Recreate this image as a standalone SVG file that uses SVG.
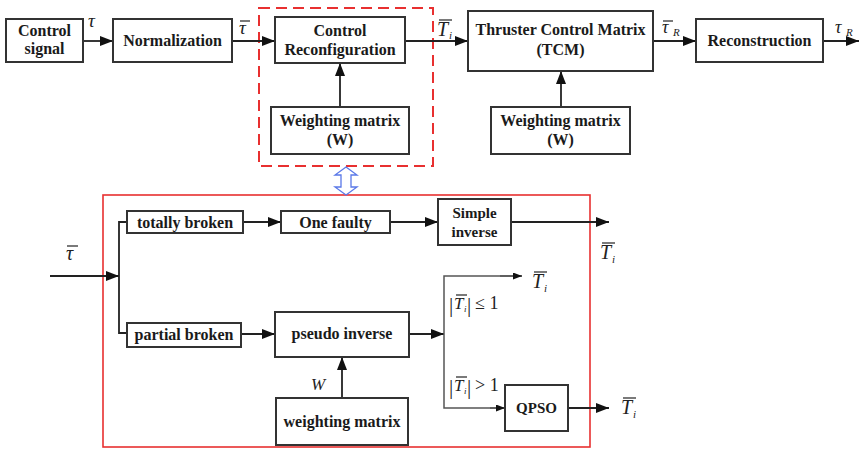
<svg xmlns="http://www.w3.org/2000/svg" width="859" height="450" viewBox="0 0 859 450">
<style>
.box{fill:#fff;stroke:#333;stroke-width:2}
.t{font-family:"Liberation Serif","Times New Roman",serif;font-weight:bold;font-size:16px;fill:#1a1a1a;text-anchor:middle}
.m{font-family:"Liberation Serif","Times New Roman",serif;font-style:italic;fill:#222}
.r{font-family:"Liberation Serif","Times New Roman",serif;fill:#222}
.ln{fill:none;stroke:#222;stroke-width:1.8}
.gl{fill:none;stroke:#555;stroke-width:1.5}
.bar{stroke:#222;stroke-width:1.2}
</style>
<defs>
<marker id="a" markerUnits="userSpaceOnUse" markerWidth="14" markerHeight="10" refX="13" refY="5" orient="auto"><path d="M0,0 L13,5 L0,10 z" fill="#111"/></marker>
<marker id="s" markerUnits="userSpaceOnUse" markerWidth="10" markerHeight="8" refX="9" refY="3.5" orient="auto"><path d="M0,0 L9,3.5 L0,7 z" fill="#111"/></marker>
</defs>

<rect x="259" y="8" width="174" height="158" fill="none" stroke="#e83030" stroke-width="2" stroke-dasharray="11,6"/>
<rect x="103" y="195" width="487" height="252" fill="none" stroke="#e83030" stroke-width="1.6"/>
<path d="M346,167 L357,175 L351,175 L351,187 L357,187 L346,195 L335,187 L341,187 L341,175 L335,175 Z" fill="#fff" stroke="#5a78e8" stroke-width="1.3"/>

<g id="connectors">
<line class="ln" x1="83" y1="41" x2="113" y2="41" marker-end="url(#a)"/>
<line class="ln" x1="232" y1="41" x2="275" y2="41" marker-end="url(#a)"/>
<line class="ln" x1="340" y1="107" x2="340" y2="63" marker-end="url(#a)"/>
<line class="ln" x1="405" y1="41" x2="468" y2="41" marker-end="url(#a)"/>
<line class="ln" x1="561" y1="107" x2="561" y2="71" marker-end="url(#a)"/>
<line class="ln" x1="653" y1="41" x2="696" y2="41" marker-end="url(#a)"/>
<line class="ln" x1="823" y1="41" x2="859" y2="41" marker-end="url(#a)"/>

<line class="ln" x1="50" y1="276" x2="119" y2="276" marker-end="url(#a)"/>
<polyline class="ln" points="127,222 119,222 119,333 127,333"/>
<line class="ln" x1="243" y1="222" x2="281" y2="222" marker-end="url(#a)"/>
<line class="ln" x1="390" y1="222" x2="438" y2="222" marker-end="url(#a)"/>
<line class="ln" x1="511" y1="222" x2="609" y2="222" marker-end="url(#a)"/>
<line class="ln" x1="241" y1="334" x2="275" y2="334" marker-end="url(#a)"/>
<line class="ln" x1="409" y1="334" x2="444" y2="334" marker-end="url(#a)"/>
<line class="ln" x1="342" y1="398" x2="342" y2="357" marker-end="url(#a)"/>
<polyline class="gl" points="522,276 444,276 444,408 505,408"/>
<line class="gl" x1="500" y1="276" x2="522" y2="276" marker-end="url(#s)"/>
<line class="gl" x1="490" y1="408" x2="505" y2="408" marker-end="url(#s)"/>
<line class="ln" x1="568" y1="408" x2="609" y2="408" marker-end="url(#a)"/>
</g>

<g id="control-signal"><rect class="box" x="6" y="19" width="77" height="43"/><text class="t" x="44.5" y="36">Control</text><text class="t" x="44.5" y="54">signal</text></g>
<g id="normalization"><rect class="box" x="113" y="19" width="119" height="43"/><text class="t" x="172.5" y="46">Normalization</text></g>
<g id="control-reconfiguration"><rect class="box" x="275" y="17" width="130" height="46"/><text class="t" x="340" y="36">Control</text><text class="t" x="340" y="55">Reconfiguration</text></g>
<g id="weighting-w1"><rect class="box" x="271" y="107" width="138" height="47"/><text class="t" x="340" y="126">Weighting matrix</text><text class="t" x="340" y="145">(W)</text></g>
<g id="tcm"><rect class="box" x="468" y="11" width="185" height="60"/><text class="t" x="560.5" y="35">Thruster Control Matrix</text><text class="t" x="560.5" y="55">(TCM)</text></g>
<g id="weighting-w2"><rect class="box" x="491" y="107" width="139" height="47"/><text class="t" x="560.5" y="126">Weighting matrix</text><text class="t" x="560.5" y="145">(W)</text></g>
<g id="reconstruction"><rect class="box" x="696" y="19" width="127" height="43"/><text class="t" x="759.5" y="46">Reconstruction</text></g>

<g id="totally-broken"><rect class="box" x="127" y="211" width="116" height="22"/><text class="t" x="185" y="228">totally broken</text></g>
<g id="one-faulty"><rect class="box" x="281" y="211" width="109" height="22"/><text class="t" x="335.5" y="228">One faulty</text></g>
<g id="simple-inverse"><rect class="box" x="438" y="199" width="73" height="46"/><text class="t" x="474.5" y="218" style="font-size:15px">Simple</text><text class="t" x="474.5" y="237" style="font-size:15px">inverse</text></g>
<g id="partial-broken"><rect class="box" x="127" y="323" width="114" height="24"/><text class="t" x="184" y="340">partial broken</text></g>
<g id="pseudo-inverse"><rect class="box" x="275" y="312" width="134" height="45"/><text class="t" x="342" y="339">pseudo inverse</text></g>
<g id="weighting-matrix"><rect class="box" x="276" y="398" width="132" height="47"/><text class="t" x="342" y="427">weighting matrix</text></g>
<g id="qpso"><rect class="box" x="505" y="385" width="63" height="46"/><text class="t" x="536.5" y="413" style="font-size:15px">QPSO</text></g>

<g id="labels">
<text class="m" x="88" y="27" font-size="19">τ</text>
<text class="m" x="239" y="34" font-size="19">τ</text><line class="bar" x1="240" y1="21" x2="250" y2="21"/>
<text class="m" x="437" y="36" font-size="20">T</text><text class="m" x="449" y="39" font-size="11">i</text><line class="bar" x1="439" y1="20" x2="452" y2="20"/>
<text class="m" x="662" y="33" font-size="18">τ</text><text class="m" x="673" y="36" font-size="11">R</text><line class="bar" x1="663" y1="21" x2="673" y2="21"/>
<text class="m" x="835" y="33" font-size="18">τ</text><text class="m" x="846" y="36" font-size="11">R</text>

<text class="m" x="66" y="260" font-size="20">τ</text><line class="bar" x1="67" y1="246" x2="78" y2="246"/>
<text class="m" x="600" y="259" font-size="20">T</text><text class="m" x="612" y="263" font-size="11">i</text><line class="bar" x1="602" y1="243" x2="615" y2="243"/>
<text class="m" x="532" y="288" font-size="20">T</text><text class="m" x="544" y="292" font-size="11">i</text><line class="bar" x1="534" y1="272" x2="547" y2="272"/>
<text class="m" x="621" y="414" font-size="20">T</text><text class="m" x="633" y="418" font-size="11">i</text><line class="bar" x1="623" y1="398" x2="636" y2="398"/>
<text class="m" x="311" y="390" font-size="17">W</text>

<text class="r" x="449" y="312" font-size="21">|</text>
<text class="m" x="454" y="309" font-size="17">T</text><text class="m" x="464" y="312" font-size="9">i</text><line class="bar" x1="456" y1="295" x2="467" y2="295"/>
<text class="r" x="467" y="312" font-size="21">|</text>
<text class="r" x="475" y="309" font-size="18">≤ 1</text>

<text class="r" x="449" y="394" font-size="21">|</text>
<text class="m" x="454" y="391" font-size="17">T</text><text class="m" x="464" y="394" font-size="9">i</text><line class="bar" x1="456" y1="377" x2="467" y2="377"/>
<text class="r" x="467" y="394" font-size="21">|</text>
<text class="r" x="475" y="391" font-size="18">&gt; 1</text>
</g>
</svg>
